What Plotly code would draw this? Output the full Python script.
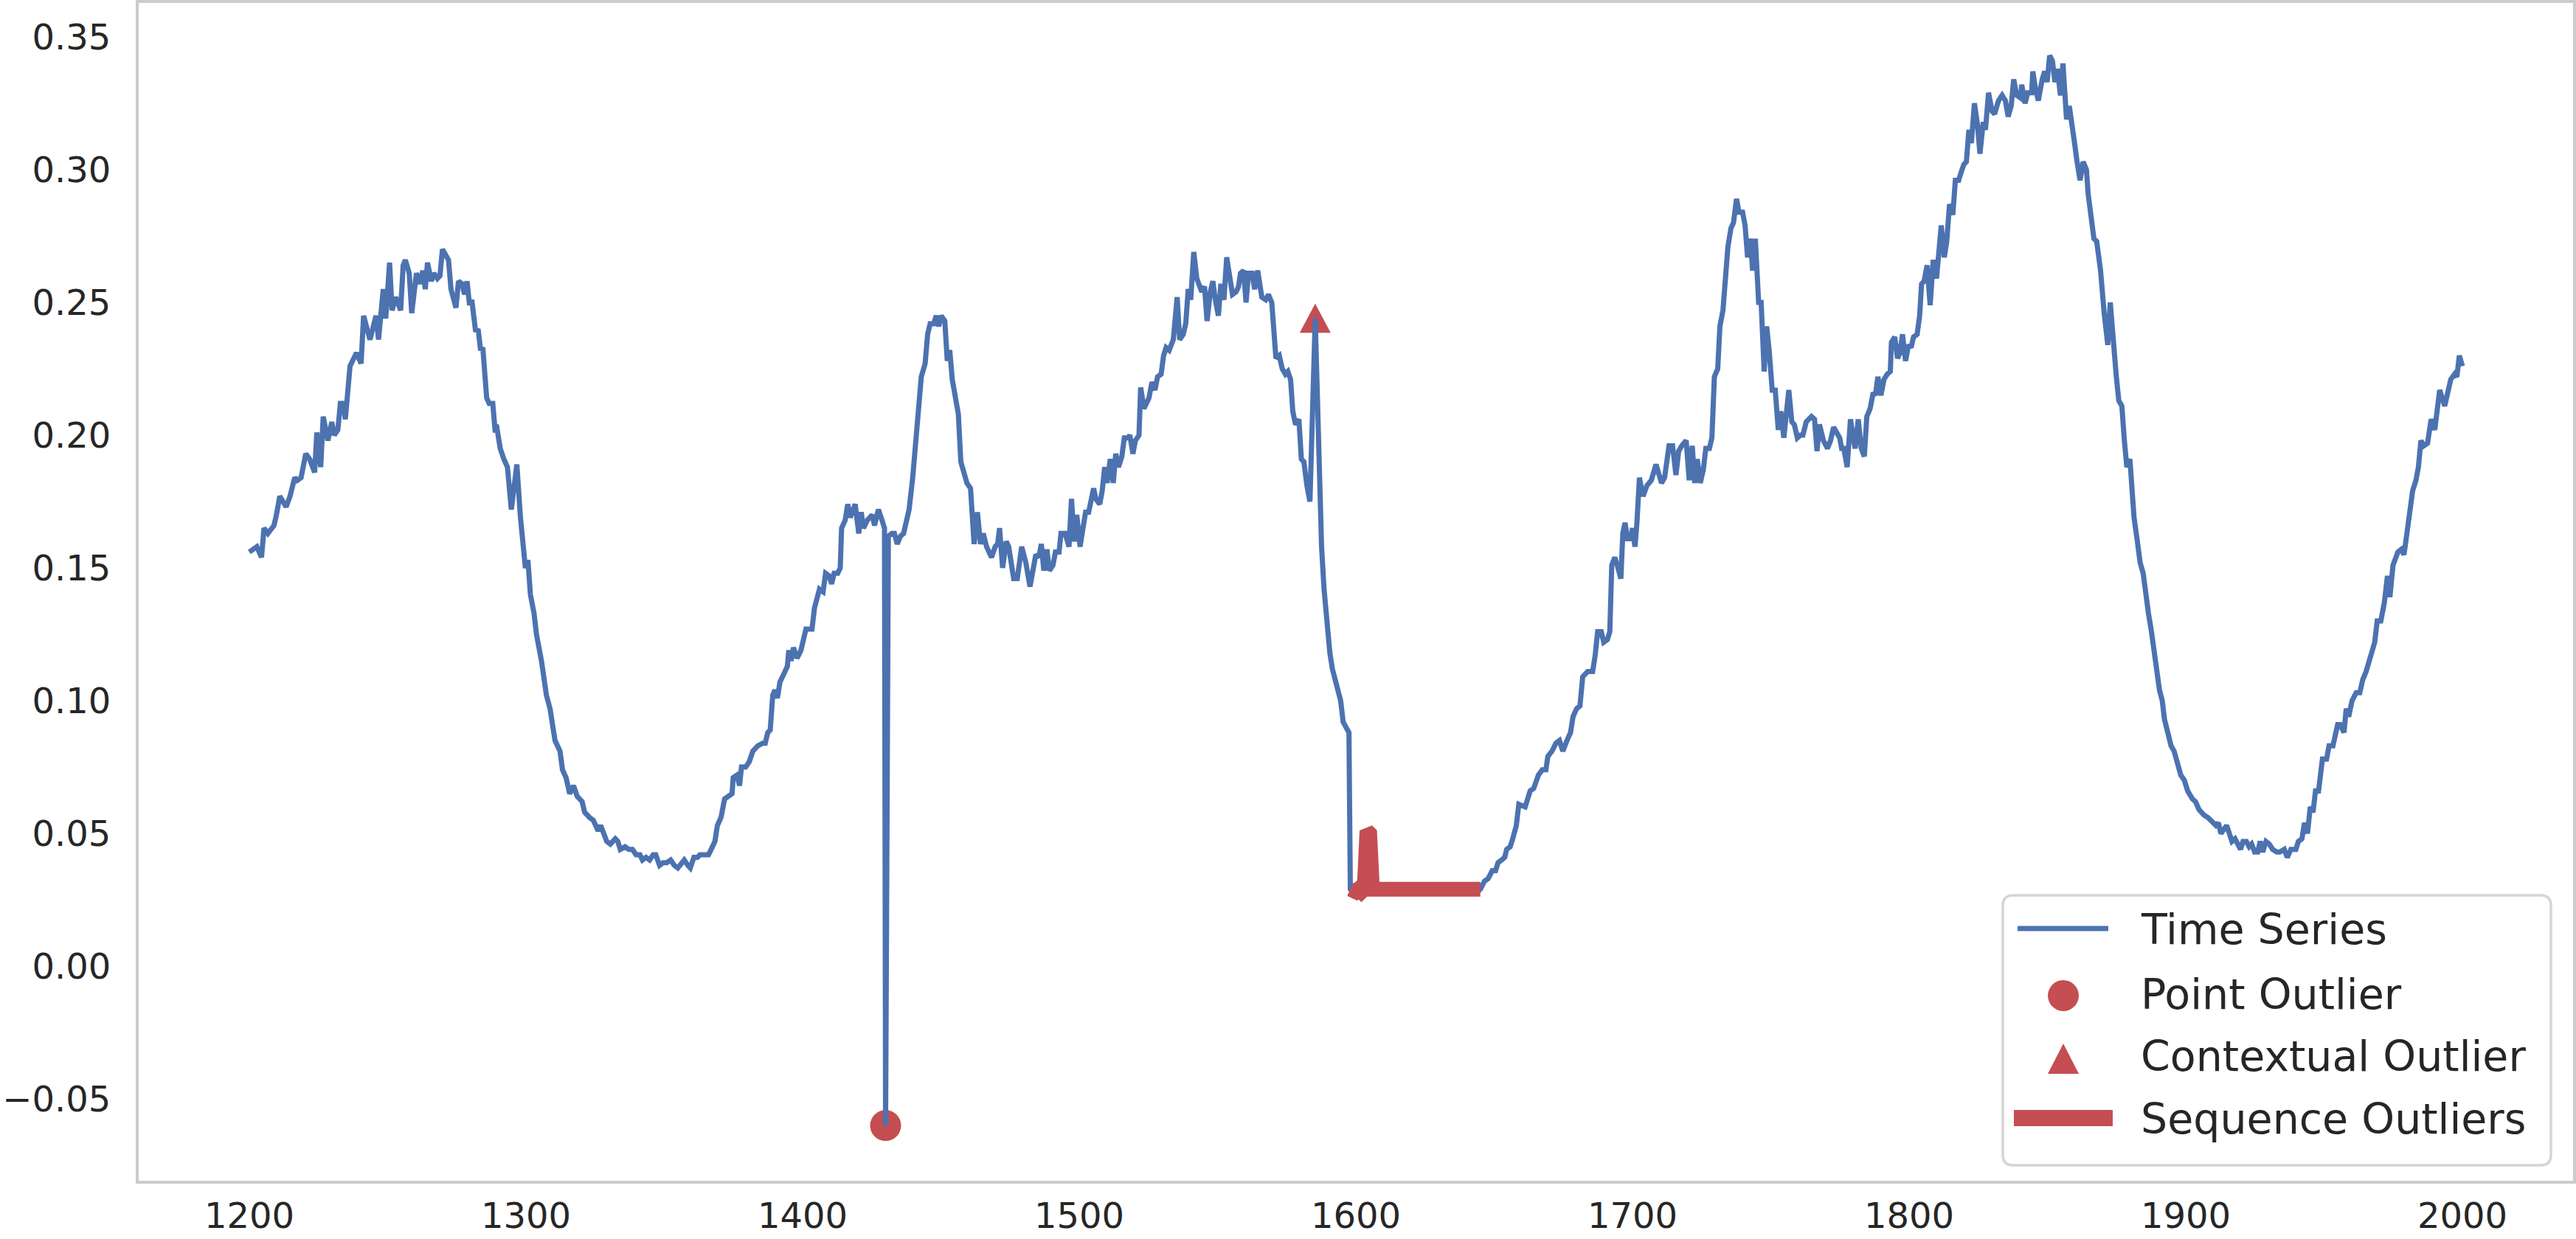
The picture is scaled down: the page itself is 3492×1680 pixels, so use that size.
import plotly.graph_objects as go

# ---------------- data ----------------
x1 = [1200.0,1202.7,1204.4,1205.3,1206.7,1208.9,1209.8,1211.0,1213.3,1214.7,
      1216.4,1217.3,1218.7,1220.4,1221.8,1223.6,1224.4,1225.8,1226.7,1228.4,
      1229.8,1230.7,1232.0,1232.9,1233.8,1234.7,1236.4,1238.7,1240.4,1241.3,
      1243.6,1245.8,1246.7,1248.4,1249.3,1250.7,1251.6,1252.9,1254.7,1255.6,
      1256.4,1257.8,1258.7,1260.4,1261.8,1262.7,1263.6,1264.4,1265.8,1266.7,
      1268.0,1268.9,1269.8,1271.1,1272.0,1272.9,1274.7,1275.6,1276.9,1277.8,
      1278.7,1279.6,1280.4,1281.8,1282.7,1283.6,1284.4,1285.8,1286.7,1288.0,
      1288.9,1289.3,1290.7,1292.0,1293.3,1294.7,1296.7]
y1 = [0.156,0.158,0.154,0.165,0.163,0.166,0.170,0.177,0.173,0.177,
      0.184,0.183,0.184,0.193,0.191,0.186,0.201,0.188,0.207,0.198,
      0.205,0.200,0.202,0.212,0.212,0.206,0.226,0.231,0.227,0.245,
      0.236,0.245,0.236,0.255,0.244,0.265,0.247,0.252,0.247,0.264,
      0.266,0.261,0.246,0.261,0.257,0.262,0.255,0.265,0.258,0.261,
      0.259,0.260,0.270,0.267,0.266,0.255,0.248,0.258,0.257,0.253,
      0.258,0.249,0.251,0.239,0.240,0.232,0.233,0.214,0.212,0.212,
      0.201,0.204,0.195,0.191,0.188,0.172,0.189]

x2 = [1298.0,1299.8,1300.7,1301.6,1302.9,1303.8,1305.6,1307.4,1308.7,1310.5,
      1312.3,1313.2,1314.5,1315.8,1317.2,1318.5,1320.3,1321.2,1323.0,1324.3,
      1326.1,1327.0,1329.2,1330.5,1332.3,1333.2,1334.1,1335.8,1337.2,1338.5,
      1339.8,1341.2,1342.1,1343.4,1344.7,1346.0,1346.9,1348.3,1349.6,1350.9,
      1352.3,1353.6,1354.9,1355.8,1357.2,1358.5,1359.4,1360.7,1362.0,1362.9,
      1364.3,1366.0,1367.4,1368.3,1369.2,1370.5,1371.8,1373.2,1374.5,1374.9,
      1376.3,1377.2,1377.9,1379.4,1380.7,1382.0,1383.8,1385.6,1386.5,1387.4,
      1388.3,1389.2,1390.0,1390.9,1391.8,1393.2,1394.5,1395.0,1395.8,1396.7,
      1398.0,1399.4]
y2 = [0.169,0.150,0.153,0.140,0.133,0.125,0.115,0.102,0.097,0.085,
      0.081,0.074,0.071,0.065,0.068,0.064,0.062,0.058,0.056,0.055,
      0.051,0.053,0.047,0.046,0.048,0.047,0.044,0.045,0.044,0.044,
      0.042,0.042,0.040,0.041,0.040,0.042,0.042,0.038,0.039,0.039,
      0.040,0.038,0.037,0.038,0.040,0.038,0.037,0.041,0.041,0.042,
      0.042,0.042,0.045,0.047,0.053,0.056,0.063,0.064,0.065,0.071,
      0.072,0.068,0.075,0.075,0.077,0.081,0.083,0.084,0.084,0.088,
      0.089,0.102,0.104,0.101,0.107,0.110,0.113,0.119,0.115,0.120,
      0.116,0.119]

x3 = [1401.2,1403.4,1404.3,1406.1,1407.4,1408.3,1409.6,1410.5,1411.4,1412.7,
      1413.6,1414.1,1415.4,1416.3,1417.2,1419.0,1420.3,1421.2,1422.0,1423.4,
      1425.2,1426.0,1427.4,1428.7,1429.6,1430.0,1431.0,1432.3,1433.2,1434.2,
      1435.4,1436.5,1437.6,1438.5,1439.8,1440.7,1442.0,1442.9,1444.3,1445.2,
      1446.1,1447.4,1448.3,1449.2,1450.1,1451.4,1452.3,1453.2,1454.1,1454.9,
      1456.3,1457.2,1458.5,1459.4,1460.7,1462.0,1463.2,1464.3,1465.3,1466.5,
      1468.3,1469.6,1470.5,1471.2,1472.3,1473.6,1474.5,1476.3,1477.6,1479.2,
      1480.7,1482.2,1484.3,1485.4,1486.3,1487.2,1488.3,1489.2,1490.5,1491.4,
      1492.7,1493.4,1494.9,1496.3,1497.2,1498.2,1499.1,1500.3,1501.2,1502.3,
      1503.4]
y3 = [0.127,0.127,0.135,0.142,0.141,0.148,0.147,0.144,0.148,0.148,
      0.150,0.165,0.168,0.174,0.169,0.174,0.163,0.171,0.165,0.168,
      0.170,0.166,0.172,0.168,0.165,-0.060,0.162,0.163,0.163,0.159,
      0.162,0.163,0.169,0.172,0.184,0.195,0.209,0.222,0.227,0.238,
      0.242,0.242,0.245,0.241,0.245,0.243,0.228,0.232,0.221,0.217,
      0.208,0.190,0.186,0.182,0.180,0.159,0.171,0.159,0.163,0.158,
      0.154,0.158,0.159,0.165,0.150,0.160,0.158,0.146,0.146,0.158,
      0.152,0.143,0.155,0.154,0.159,0.149,0.157,0.149,0.151,0.156,
      0.156,0.163,0.163,0.158,0.176,0.160,0.170,0.158,0.164,0.171,
      0.171]

x4 = [1505.2,1506.0,1507.4,1508.3,1509.2,1510.1,1511.2,1512.3,1513.2,1514.2,
      1515.4,1516.3,1517.6,1518.3,1519.4,1520.3,1521.6,1522.2,1523.4,1525.2,
      1526.3,1527.4,1528.3,1529.6,1530.5,1531.4,1532.5,1534.0,1535.4,1536.3,
      1537.6,1538.5,1539.4,1540.3,1541.4,1542.5,1543.4,1544.3,1545.3,1546.2,
      1547.4,1548.3,1549.2,1550.3,1551.2,1552.3,1553.3,1554.5,1555.4,1556.7,
      1557.6,1558.3,1559.4,1560.3,1561.2,1562.5,1563.4,1564.5,1566.0,1567.4,
      1568.4,1569.6,1570.5,1571.1,1572.3,1573.4,1574.5,1575.4,1576.4,1577.2,
      1578.2,1579.4,1580.3,1581.2,1582.3,1583.4,1585.3,1586.9,1587.6,1588.5,
      1589.5,1590.6,1591.5,1592.4,1593.6,1594.5,1595.4,1596.6,1597.5]
y4 = [0.180,0.176,0.174,0.179,0.188,0.182,0.191,0.182,0.193,0.188,
      0.192,0.199,0.199,0.200,0.193,0.198,0.200,0.218,0.210,0.214,
      0.220,0.217,0.222,0.223,0.230,0.233,0.232,0.236,0.252,0.236,
      0.238,0.242,0.255,0.251,0.269,0.259,0.257,0.254,0.256,0.243,
      0.254,0.258,0.251,0.245,0.257,0.251,0.267,0.257,0.253,0.254,
      0.256,0.261,0.262,0.250,0.261,0.261,0.255,0.262,0.252,0.251,
      0.253,0.250,0.239,0.229,0.230,0.225,0.223,0.224,0.221,0.209,
      0.204,0.206,0.191,0.190,0.181,0.175,0.244,0.175,0.158,0.142,
      0.128,0.118,0.112,0.108,0.104,0.100,0.092,0.090,0.088]

# sequence outlier segment (part of the series too)
seq_x = list(range(1598, 1646))
seq_y = [0.029,0.028,0.028,0.029,0.028,0.029,0.051,0.050,0.029,0.029,
         0.028,0.029,0.028,0.028,0.029,0.028,0.028,0.028,0.029,0.028,
         0.028,0.028,0.028,0.029,0.028,0.028,0.028,0.029,0.028,0.028,
         0.028,0.029,0.029,0.028,0.028,0.028,0.028,0.029,0.028,0.028,
         0.028,0.028,0.028,0.029,0.028,0.029,0.028,0.029]

x5 = [1646.5,1647.8,1649.3,1650.5,1651.4,1652.7,1653.8,1654.5,1655.8,1656.7,
      1658.0,1658.9,1661.2,1663.0,1664.3,1666.0,1667.4,1668.7,1669.4,1670.9,
      1672.3,1673.6,1674.8,1676.3,1677.6,1678.5,1679.8,1681.0,1682.0,1683.8,
      1685.6,1686.5,1687.4,1688.7,1689.6,1690.9,1691.8,1692.5,1693.6,1694.5,
      1695.8,1696.5,1697.3,1698.2,1699.4,1700.0,1700.9,1701.6,1702.5,1703.8,
      1705.2,1706.8,1708.5,1710.5,1711.6]
y5 = [0.032,0.033,0.036,0.036,0.039,0.040,0.041,0.044,0.045,0.048,
      0.053,0.061,0.060,0.066,0.067,0.072,0.074,0.074,0.079,0.081,
      0.084,0.085,0.081,0.085,0.088,0.094,0.097,0.098,0.109,0.111,
      0.111,0.117,0.126,0.126,0.122,0.123,0.126,0.151,0.154,0.151,
      0.146,0.163,0.167,0.161,0.161,0.165,0.158,0.167,0.184,0.177,
      0.181,0.183,0.189,0.182,0.184]

x6 = [1713.2,1714.5,1715.7,1716.7,1717.8,1718.7,1719.4,1720.5,1721.6,1722.5,
      1723.4,1724.5,1725.6,1726.5,1727.8,1728.7,1729.6,1730.8,1731.6,1732.7,
      1733.6,1734.5,1735.6,1736.5,1737.6,1738.5,1739.8,1740.7,1741.6,1742.7,
      1743.4,1744.4,1745.6,1746.5,1747.6,1748.5,1749.4,1750.5,1751.6,1752.7,
      1753.6,1754.7,1756.5,1757.6,1758.5,1759.6,1760.7,1761.6,1762.8,1763.8,
      1764.7,1765.8,1766.7,1767.6,1769.0,1770.5,1771.6,1772.7,1774.0,1774.9,
      1775.6,1776.4,1777.6,1778.8,1779.8,1780.5,1781.6,1782.7,1783.8,1784.7,
      1785.9,1787.0,1787.8,1788.7,1789.8,1790.9,1792.1,1793.2,1793.6,1794.8,
      1795.8,1796.7,1797.6,1798.7,1799.8,1800.7,1801.6,1802.9,1803.8,1804.5,
      1805.4,1806.5,1807.6,1808.7,1809.9,1810.8,1811.6,1812.7,1813.6]
y6 = [0.196,0.196,0.185,0.194,0.196,0.197,0.198,0.183,0.196,0.182,
      0.191,0.182,0.187,0.195,0.195,0.199,0.222,0.225,0.241,0.247,
      0.259,0.271,0.278,0.280,0.289,0.284,0.284,0.279,0.267,0.274,
      0.262,0.274,0.250,0.250,0.224,0.241,0.232,0.217,0.217,0.202,
      0.209,0.199,0.217,0.205,0.204,0.199,0.200,0.200,0.205,0.206,
      0.207,0.206,0.194,0.204,0.198,0.195,0.198,0.203,0.200,0.199,
      0.195,0.195,0.188,0.206,0.199,0.195,0.206,0.195,0.192,0.207,
      0.210,0.216,0.215,0.222,0.215,0.221,0.223,0.224,0.235,0.237,
      0.229,0.231,0.238,0.228,0.234,0.233,0.237,0.238,0.245,0.257,
      0.258,0.264,0.249,0.266,0.259,0.272,0.279,0.267,0.273]

x7 = [1814.6,1815.8,1816.7,1817.9,1818.8,1819.8,1820.7,1821.6,1822.5,1823.6,
      1824.7,1825.6,1826.8,1827.6,1828.7,1830.0,1830.9,1832.3,1833.6,1834.8,
      1835.8,1836.9,1837.8,1838.9,1840.3,1840.7,1841.9,1842.9,1844.3,1844.7,
      1845.6,1846.7,1848.1,1849.0,1849.9,1850.8,1851.8,1852.7,1853.6,1854.7,
      1855.6,1856.1,1856.9,1857.9,1858.9,1859.8,1860.7,1861.8,1862.9,1864.1,
      1864.7,1865.9,1866.8,1867.8,1869.2,1870.5,1871.8,1872.7,1874.0,1874.9,
      1875.8,1876.9,1877.8,1878.7,1879.8,1880.7,1881.3]
y7 = [0.287,0.283,0.296,0.296,0.299,0.302,0.303,0.315,0.310,0.325,
      0.317,0.306,0.318,0.315,0.329,0.322,0.321,0.326,0.328,0.326,
      0.320,0.324,0.334,0.328,0.327,0.332,0.325,0.329,0.329,0.337,
      0.331,0.326,0.334,0.337,0.333,0.343,0.341,0.333,0.338,0.328,
      0.340,0.328,0.319,0.324,0.318,0.310,0.303,0.296,0.303,0.300,
      0.291,0.279,0.274,0.273,0.262,0.246,0.234,0.250,0.230,0.222,
      0.213,0.211,0.198,0.188,0.191,0.175,0.169]

x8 = [1882.5,1883.5,1884.6,1885.5,1886.5,1887.6,1888.5,1889.5,1890.5,1891.5,
      1892.3,1893.5,1894.7,1895.8,1897.0,1898.2,1899.5,1900.7,1902.4,1903.5,
      1904.8,1906.5,1908.0]
y8 = [0.160,0.152,0.148,0.140,0.133,0.126,0.118,0.110,0.104,0.100,
      0.093,0.088,0.083,0.081,0.076,0.072,0.070,0.066,0.063,0.062,
      0.059,0.057,0.056]

x9 = [1909.6,1910.9,1911.8,1912.7,1914.8,1916.7,1917.8,1919.8,1920.7,1921.9,
      1922.9,1923.8,1924.9,1926.0,1926.9,1927.8,1929.0,1930.2,1931.4,1932.9,
      1934.0,1935.6,1936.7,1938.0,1939.8,1940.7,1942.0,1942.9,1944.0,1945.0,
      1946.0,1946.9,1948.0,1949.4,1950.9,1951.8,1953.2,1954.9,1955.8,1957.2,
      1958.0,1958.9,1960.1,1961.6,1962.9,1964.0,1965.2,1966.9,1968.3,1969.2,
      1970.5,1971.8,1972.9,1973.8,1974.9,1976.7,1977.9,1978.9,1980.0,1981.2,
      1982.0,1983.2,1984.1,1985.0,1986.0,1987.4,1988.7,1990.0,1990.9,1991.8,
      1993.6,1994.9,1995.8,1997.2,1998.0,1998.9,2000.0]
y9 = [0.054,0.053,0.054,0.050,0.053,0.047,0.048,0.044,0.047,0.047,
      0.045,0.046,0.043,0.043,0.047,0.043,0.047,0.046,0.044,0.043,
      0.043,0.044,0.041,0.044,0.044,0.047,0.048,0.054,0.050,0.060,
      0.058,0.066,0.066,0.078,0.078,0.083,0.083,0.091,0.091,0.088,
      0.097,0.094,0.100,0.103,0.103,0.108,0.111,0.117,0.122,0.130,
      0.130,0.137,0.147,0.139,0.151,0.156,0.157,0.155,0.165,0.173,
      0.179,0.183,0.188,0.198,0.196,0.197,0.206,0.202,0.210,0.217,
      0.211,0.217,0.221,0.223,0.222,0.230,0.226]

point_x = [1430.0]
point_y = [-0.060]
ctx_x = [1585.3]
ctx_y = [0.244]

x_ticks = [1200, 1300, 1400, 1500, 1600, 1700, 1800, 1900, 2000]
y_ticks = [-0.05, 0.00, 0.05, 0.10, 0.15, 0.20, 0.25, 0.30, 0.35]
y_tick_text = ["\u22120.05", "0.00", "0.05", "0.10", "0.15", "0.20", "0.25", "0.30", "0.35"]

legend_names = ["Time Series", "Point Outlier", "Contextual Outlier", "Sequence Outliers"]

ts_x = x1 + x2 + x3 + x4 + seq_x + x5 + x6 + x7 + x8 + x9
ts_y = y1 + y2 + y3 + y4 + seq_y + y5 + y6 + y7 + y8 + y9
assert len(ts_x) == len(ts_y)

BLUE = "#4C72B0"
RED = "#C44E52"
TXT = "#262626"
FONT = "DejaVu Sans"

# ---------------- figure ----------------
W, H = 3492, 1680
L, R, T, B = 188, 4, 4, 79
PW, PH = W - L - R, H - T - B

fig = go.Figure()
fig.add_trace(go.Scatter(x=point_x, y=point_y, mode="markers", name=legend_names[1],
                         marker=dict(symbol="circle", size=42, color=RED, line=dict(width=0)),
                         showlegend=False))
fig.add_trace(go.Scatter(x=ts_x, y=ts_y, mode="lines", name=legend_names[0],
                         line=dict(color=BLUE, width=7), showlegend=False))
fig.add_trace(go.Scatter(x=seq_x, y=seq_y, mode="lines", name=legend_names[3],
                         line=dict(color=RED, width=20), showlegend=False))


def px(xp):
    return (xp - L) / PW


def py(yp):
    return (H - B - yp) / PH


shapes = []
# contextual outlier: triangle glyph anchored at the data point (pixel-sized)
shapes.append(dict(type="path", xref="x", yref="y", xsizemode="pixel", ysizemode="pixel",
                   xanchor=ctx_x[0], yanchor=ctx_y[0],
                   path="M 0 20 L 21 -19.5 L -21 -19.5 Z",
                   fillcolor=RED, line=dict(width=0), layer="below"))
# legend frame (rounded rectangle)
lx0, lx1, ly0, ly1, rr = 2715, 3458, 1214, 1580, 14
path = (f"M {px(lx0 + rr)} {py(ly0)} L {px(lx1 - rr)} {py(ly0)} "
        f"Q {px(lx1)} {py(ly0)} {px(lx1)} {py(ly0 + rr)} L {px(lx1)} {py(ly1 - rr)} "
        f"Q {px(lx1)} {py(ly1)} {px(lx1 - rr)} {py(ly1)} L {px(lx0 + rr)} {py(ly1)} "
        f"Q {px(lx0)} {py(ly1)} {px(lx0)} {py(ly1 - rr)} L {px(lx0)} {py(ly0 + rr)} "
        f"Q {px(lx0)} {py(ly0)} {px(lx0 + rr)} {py(ly0)} Z")
shapes.append(dict(type="path", xref="paper", yref="paper", path=path,
                   fillcolor="rgba(255,255,255,0.85)", line=dict(color="#d5d5d5", width=3.5),
                   layer="above"))
# legend symbols
shapes.append(dict(type="line", xref="paper", yref="paper", x0=px(2735), x1=px(2858),
                   y0=py(1259), y1=py(1259), line=dict(color=BLUE, width=7), layer="above"))
shapes.append(dict(type="circle", xref="paper", yref="paper", x0=px(2776), x1=px(2818),
                   y0=py(1371), y1=py(1329), fillcolor=RED, line=dict(width=0), layer="above"))
tri = (f"M {px(2797)} {py(1415)} L {px(2818)} {py(1456)} L {px(2776)} {py(1456)} Z")
shapes.append(dict(type="path", xref="paper", yref="paper", path=tri, fillcolor=RED,
                   line=dict(width=0), layer="above"))
shapes.append(dict(type="line", xref="paper", yref="paper", x0=px(2730), x1=px(2864),
                   y0=py(1516), y1=py(1516), line=dict(color=RED, width=22), layer="above"))

annotations = []
for name, yc in zip(legend_names, [1258, 1346, 1430, 1515]):
    annotations.append(dict(text=name, xref="paper", yref="paper", x=px(2900), y=py(yc + 2),
                            xanchor="left", yanchor="middle", showarrow=False,
                            font=dict(family=FONT, size=57, color=TXT)))

fig.update_layout(
    width=W, height=H,
    margin=dict(l=L, r=R, t=T, b=B, autoexpand=False),
    paper_bgcolor="white", plot_bgcolor="white",
    font=dict(family=FONT, size=48, color=TXT),
    showlegend=False,
    shapes=shapes, annotations=annotations,
    xaxis=dict(range=[1160, 2040], tickvals=x_ticks, ticktext=[str(v) for v in x_ticks],
               showgrid=False, zeroline=False, showline=True, mirror=True, automargin=False,
               linecolor="#cccccc", linewidth=4, ticks="", ticklabelstandoff=2,
               tickfont=dict(family=FONT, size=48, color=TXT)),
    yaxis=dict(range=[-0.0808, 0.3628], tickvals=y_ticks, ticktext=y_tick_text,
               showgrid=False, zeroline=False, showline=True, mirror=True, automargin=False,
               linecolor="#cccccc", linewidth=4, ticks="", ticklabelstandoff=24,
               tickfont=dict(family=FONT, size=48, color=TXT)),
)

fig.write_html("out.html", config={"displayModeBar": False},
               post_script="document.body.style.margin='0';")
